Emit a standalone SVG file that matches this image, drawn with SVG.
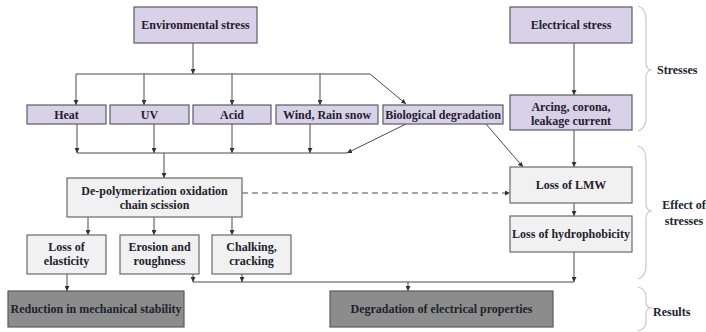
<svg xmlns="http://www.w3.org/2000/svg" width="706" height="332" viewBox="0 0 706 332">
<style>
.p{fill:#d9d1e7;stroke:#5a5a66;stroke-width:1.2}
.g{fill:#f1f1f1;stroke:#6a6a6a;stroke-width:1.2}
.d{fill:#8c8c8c;stroke:#5a5a5a;stroke-width:1.2}
text{font-family:"Liberation Serif","Times New Roman",serif;font-weight:bold;font-size:12px;fill:#22222e;text-anchor:middle}
.l{fill:none;stroke:#4a4a4a;stroke-width:1}
.b{fill:none;stroke:#c8c8c8;stroke-width:1.2}
.s{text-anchor:start}
</style>
<defs>
<marker id="a" viewBox="0 0 6 6" refX="6" refY="3" markerWidth="5" markerHeight="5" orient="auto" markerUnits="userSpaceOnUse">
<path d="M0,0 L6,3 L0,6 z" fill="#333"/>
</marker>
</defs>
<rect width="706" height="332" fill="#fff"/>
<g id="connectors">
<path class="l" d="M193,43 V74" marker-end="url(#a)"/>
<path class="l" d="M76,74 H370 L406,104" marker-end="url(#a)"/>
<path class="l" d="M76,74 V105" marker-end="url(#a)"/>
<path class="l" d="M144,74 V105" marker-end="url(#a)"/>
<path class="l" d="M232,74 V105" marker-end="url(#a)"/>
<path class="l" d="M320,74 V105" marker-end="url(#a)"/>
<path class="l" d="M77,124 V153" marker-end="url(#a)"/>
<path class="l" d="M154,124 V153" marker-end="url(#a)"/>
<path class="l" d="M232,124 V153" marker-end="url(#a)"/>
<path class="l" d="M310,124 V153" marker-end="url(#a)"/>
<path class="l" d="M406,124 L347,153" marker-end="url(#a)"/>
<path class="l" d="M77,153 H347"/>
<path class="l" d="M164,153 V178" marker-end="url(#a)"/>
<path class="l" d="M486,124 L523,167" marker-end="url(#a)"/>
<path class="l" d="M574,43 V95" marker-end="url(#a)"/>
<path class="l" d="M574,130 V167" marker-end="url(#a)"/>
<path class="l" d="M242,193 H510" stroke-dasharray="6,4" marker-end="url(#a)"/>
<path class="l" d="M574,203 V216" marker-end="url(#a)"/>
<path class="l" d="M88,217 V235" marker-end="url(#a)"/>
<path class="l" d="M154,217 V235" marker-end="url(#a)"/>
<path class="l" d="M232,217 V235" marker-end="url(#a)"/>
<path class="l" d="M67,274 V291" marker-end="url(#a)"/>
<path class="l" d="M193,282 H574"/>
<path class="l" d="M193,274 V282" marker-end="url(#a)"/>
<path class="l" d="M242,274 V282" marker-end="url(#a)"/>
<path class="l" d="M574,252 V282" marker-end="url(#a)"/>
<path class="l" d="M408,282 V291" marker-end="url(#a)"/>
</g>
<g id="env"><rect class="p" x="134" y="7" width="123" height="36"/><text x="195.5" y="29">Environmental stress</text></g>
<g id="elec"><rect class="p" x="510" y="7" width="122" height="36"/><text x="571" y="29">Electrical stress</text></g>
<g id="heat"><rect class="p" x="27" y="105" width="79" height="19"/><text x="66.5" y="118.5">Heat</text></g>
<g id="uv"><rect class="p" x="110" y="105" width="79" height="19"/><text x="149.5" y="118.5">UV</text></g>
<g id="acid"><rect class="p" x="193" y="105" width="78" height="19"/><text x="232" y="118.5">Acid</text></g>
<g id="wind"><rect class="p" x="276" y="105" width="102" height="19"/><text x="327" y="118.5">Wind, Rain snow</text></g>
<g id="bio"><rect class="p" x="383" y="105" width="120" height="19"/><text x="443" y="118.5">Biological degradation</text></g>
<g id="arc"><rect class="p" x="510" y="95" width="122" height="35"/><text x="571" y="111">Arcing, corona,</text><text x="571" y="125">leakage current</text></g>
<g id="depoly"><rect class="g" x="67" y="178" width="175" height="39"/><text x="154.5" y="195">De-polymerization oxidation</text><text x="154.5" y="209">chain scission</text></g>
<g id="lmw"><rect class="g" x="510" y="167" width="122" height="36"/><text x="571" y="189">Loss of LMW</text></g>
<g id="hydro"><rect class="g" x="510" y="216" width="122" height="36"/><text x="571" y="238">Loss of hydrophobicity</text></g>
<g id="elast"><rect class="g" x="27" y="235" width="79" height="39"/><text x="66.5" y="251">Loss of</text><text x="66.5" y="265">elasticity</text></g>
<g id="erosion"><rect class="g" x="120" y="235" width="79" height="39"/><text x="159.5" y="251">Erosion and</text><text x="159.5" y="265">roughness</text></g>
<g id="chalk"><rect class="g" x="212" y="235" width="79" height="39"/><text x="251.5" y="251">Chalking,</text><text x="251.5" y="265">cracking</text></g>
<g id="mech"><rect class="d" x="8" y="291" width="176" height="36"/><text x="96" y="313">Reduction in mechanical stability</text></g>
<g id="degr"><rect class="d" x="330" y="291" width="223" height="36"/><text x="441.5" y="313">Degradation of electrical properties</text></g>
<g id="braces">
<path class="b" d="M638,6 Q646,8 646,20 V62 Q646,70 652,70 Q646,70 646,78 V118 Q646,128 638,131"/>
<path class="b" d="M638,146 Q646,148 646,160 V203 Q646,211 652,211 Q646,211 646,219 V266 Q646,276 638,279"/>
<path class="b" d="M638,287 Q646,289 646,297 V302 Q646,308 652,308 Q646,308 646,314 V322 Q646,329 638,331"/>
<text class="s" x="657" y="74">Stresses</text>
<text x="684" y="209">Effect of</text>
<text x="684" y="225">stresses</text>
<text class="s" x="653" y="316">Results</text>
</g>
</svg>
